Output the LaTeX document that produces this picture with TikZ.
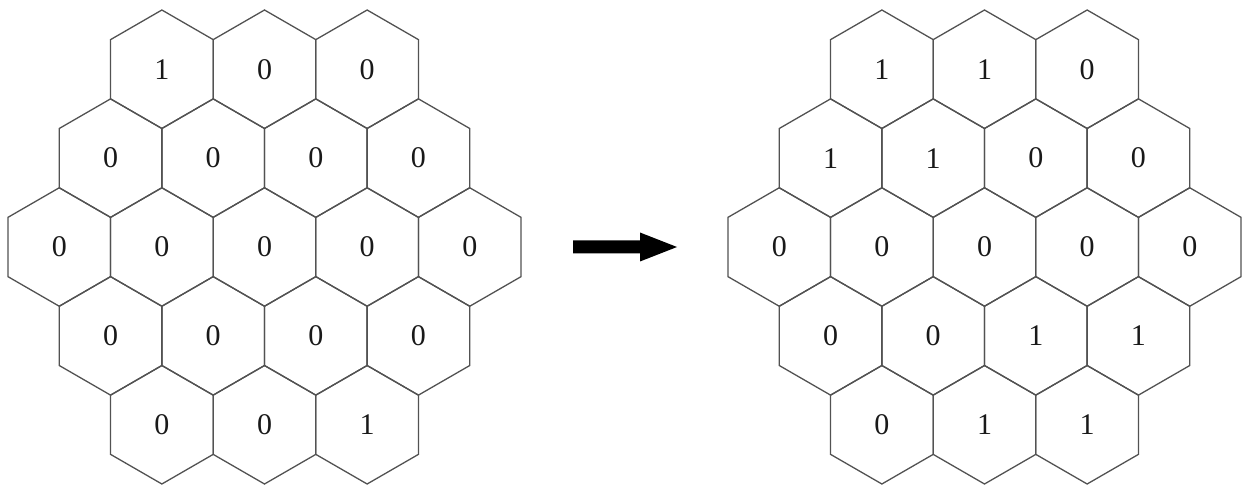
\documentclass[tikz,border=0pt]{standalone}
\usepackage{fontspec}
\setmainfont{Liberation Serif}
\begin{document}
\begin{tikzpicture}[x=1pt,y=1pt,
  hexline/.style={draw=black!68, line width=1.3pt, line join=miter},
  celltext/.style={font=\fontsize{30}{30}\selectfont, inner sep=0pt, text=black!90},
  arrowbody/.style={fill=black}]
\useasboundingbox (0,0) rectangle (1245,488);
\def\R{59.25}
\pgfmathsetmacro{\W}{sqrt(3)*\R}
\pgfmathsetmacro{\V}{1.5*\R}
% hex cell macro: center x, center y (tikz), label, name
\newcommand{\hexcell}[4]{%
  \draw[hexline] (#1,#2) ++(90:\R) -- ++(-30:\R) -- ++(-90:\R) -- ++(-150:\R) -- ++(150:\R) -- ++(90:\R) -- cycle;
  \node[celltext] (#4) at (#1,#2) {#3};
}
% grid: mid x, prefix, labels rows
\newcommand{\hexgrid}[7]{%
  \foreach \lab [count=\i from 0] in {#3} {
    \pgfmathsetmacro{\cx}{#1+(\i-1)*\W}
    \pgfmathsetmacro{\cy}{241+2*\V}
    \hexcell{\cx}{\cy}{\lab}{#2r0c\i}
  }
  \foreach \lab [count=\i from 0] in {#4} {
    \pgfmathsetmacro{\cx}{#1+(\i-1.5)*\W}
    \pgfmathsetmacro{\cy}{241+\V}
    \hexcell{\cx}{\cy}{\lab}{#2r1c\i}
  }
  \foreach \lab [count=\i from 0] in {#5} {
    \pgfmathsetmacro{\cx}{#1+(\i-2)*\W}
    \hexcell{\cx}{241}{\lab}{#2r2c\i}
  }
  \foreach \lab [count=\i from 0] in {#6} {
    \pgfmathsetmacro{\cx}{#1+(\i-1.5)*\W}
    \pgfmathsetmacro{\cy}{241-\V}
    \hexcell{\cx}{\cy}{\lab}{#2r3c\i}
  }
  \foreach \lab [count=\i from 0] in {#7} {
    \pgfmathsetmacro{\cx}{#1+(\i-1)*\W}
    \pgfmathsetmacro{\cy}{241-2*\V}
    \hexcell{\cx}{\cy}{\lab}{#2r4c\i}
  }
}
\hexgrid{264.5}{L}{1,0,0}{0,0,0,0}{0,0,0,0,0}{0,0,0,0}{0,0,1}
\hexgrid{984.5}{R}{1,1,0}{1,1,0,0}{0,0,0,0,0}{0,0,1,1}{0,1,1}
% arrow
\coordinate (atail) at (573,241);
\coordinate (atip) at (677,241);
\fill[arrowbody] (atail) ++(0,6.5) -- ++(67,0) -- ++(0,8) -- (atip) -- ++(-37,-14.5) -- ++(0,8) -- ++(-67,0) -- cycle;
\end{tikzpicture}
\end{document}
